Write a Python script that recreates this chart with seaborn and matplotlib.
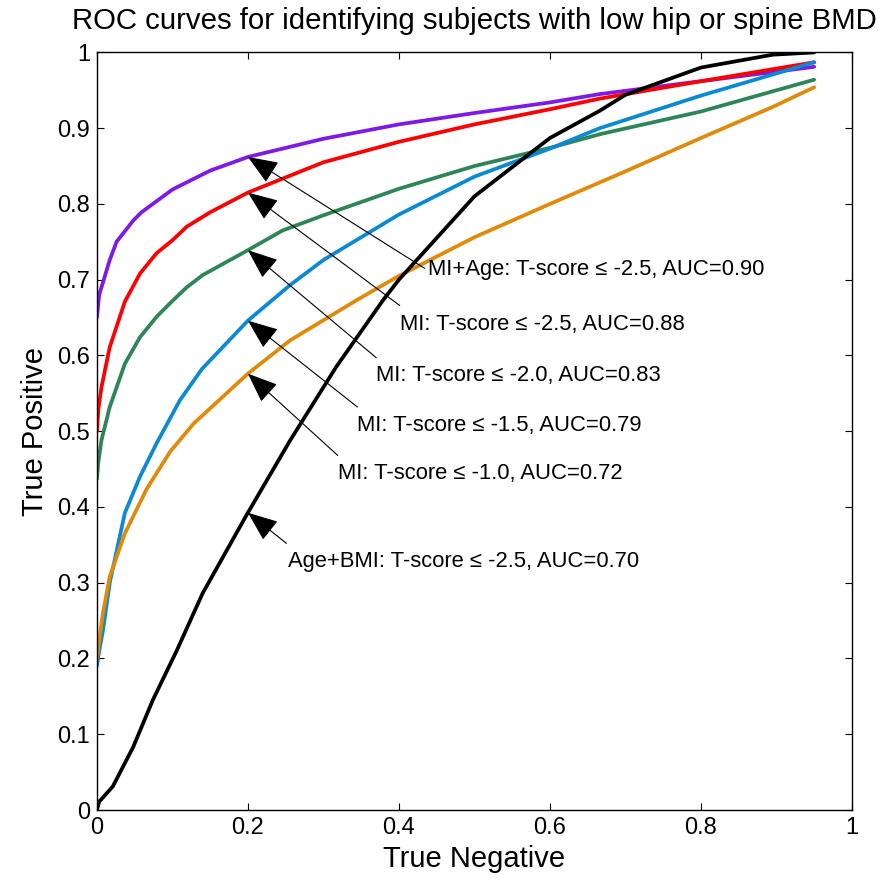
import numpy as np
import pandas as pd
import seaborn as sns
import matplotlib.pyplot as plt


# Curve data (x = true negative, y = true positive)
purple_x = [0, 0.003, 0.017, 0.026, 0.048, 0.059, 0.1, 0.15, 0.2, 0.3, 0.4, 0.5, 0.6, 0.666, 0.8, 0.95]
purple_y = [0.65, 0.68, 0.726, 0.75, 0.778, 0.789, 0.819, 0.844, 0.862, 0.886, 0.905, 0.92, 0.934, 0.945, 0.962, 0.981]

red_x = [0, 0.002, 0.006, 0.017, 0.037, 0.057, 0.079, 0.1, 0.119, 0.15, 0.2, 0.3, 0.4, 0.5, 0.6, 0.666, 0.8, 0.95]
red_y = [0.5, 0.53, 0.558, 0.611, 0.671, 0.708, 0.735, 0.752, 0.77, 0.789, 0.815, 0.855, 0.882, 0.905, 0.925, 0.939, 0.962, 0.987]

green_x = [0, 0.002, 0.006, 0.017, 0.037, 0.057, 0.079, 0.1, 0.119, 0.14, 0.2, 0.246, 0.3, 0.4, 0.5, 0.6, 0.666, 0.8, 0.95]
green_y = [0.437, 0.46, 0.488, 0.532, 0.589, 0.624, 0.651, 0.672, 0.69, 0.706, 0.739, 0.765, 0.785, 0.82, 0.85, 0.874, 0.892, 0.922, 0.964]

blue_x = [0, 0.003, 0.008, 0.017, 0.037, 0.057, 0.079, 0.11, 0.139, 0.2, 0.256, 0.3, 0.4, 0.5, 0.6, 0.666, 0.8, 0.95]
blue_y = [0.19, 0.21, 0.237, 0.3, 0.392, 0.44, 0.484, 0.541, 0.582, 0.646, 0.693, 0.726, 0.786, 0.836, 0.873, 0.9, 0.943, 0.987]

orange_x = [0, 0.003, 0.008, 0.017, 0.037, 0.066, 0.097, 0.128, 0.2, 0.256, 0.344, 0.4, 0.5, 0.6, 0.7, 0.8, 0.895, 0.95]
orange_y = [0.2, 0.225, 0.26, 0.308, 0.365, 0.424, 0.473, 0.51, 0.576, 0.62, 0.673, 0.705, 0.756, 0.8, 0.843, 0.887, 0.928, 0.954]

black_x = [0, 0.003, 0.021, 0.048, 0.074, 0.106, 0.14, 0.198, 0.256, 0.317, 0.379, 0.4, 0.5, 0.6, 0.666, 0.7, 0.8, 0.895, 0.95]
black_y = [0.0, 0.011, 0.031, 0.083, 0.145, 0.211, 0.286, 0.389, 0.488, 0.585, 0.673, 0.7, 0.81, 0.887, 0.923, 0.944, 0.98, 0.997, 1.0]

labels = [
    'MI+Age: T-score \u2264 -2.5, AUC=0.90',
    'MI: T-score \u2264 -2.5, AUC=0.88',
    'MI: T-score \u2264 -2.0, AUC=0.83',
    'MI: T-score \u2264 -1.5, AUC=0.79',
    'MI: T-score \u2264 -1.0, AUC=0.72',
    'Age+BMI: T-score \u2264 -2.5, AUC=0.70',
]
colors = ['#7F1AE6', '#FF0000', '#2E8557', '#0A8AD2', '#E08A0A', '#000000']
curves = [(purple_x, purple_y), (red_x, red_y), (green_x, green_y),
          (blue_x, blue_y), (orange_x, orange_y), (black_x, black_y)]

# Build long dataframe for seaborn
frames = []
for lab, (xs, ys) in zip(labels, curves):
    frames.append(pd.DataFrame({'tn': xs, 'tp': ys, 'curve': lab}))
df = pd.concat(frames, ignore_index=True)

sns.set_style('ticks')
plt.rcParams['font.family'] = ['Liberation Sans', 'DejaVu Sans']
plt.rcParams['text.color'] = 'black'
plt.rcParams['axes.labelcolor'] = 'black'
plt.rcParams['xtick.color'] = 'black'
plt.rcParams['ytick.color'] = 'black'

fig = plt.figure(figsize=(8.81, 8.84), dpi=100)
ax = fig.add_axes([0.110, 0.0837, 0.857, 0.857])

sns.lineplot(data=df, x='tn', y='tp', hue='curve', palette=dict(zip(labels, colors)),
             hue_order=labels, estimator=None, sort=False, linewidth=2.7, legend=False, ax=ax)

# Annotation arrows pointing at each curve at x = 0.2
text_pos = [(0.438, 0.706), (0.402, 0.633), (0.370, 0.566), (0.345, 0.500), (0.319, 0.437), (0.253, 0.321)]
tail_pos = [(0.434, 0.715), (0.401, 0.666), (0.370, 0.597), (0.345, 0.532), (0.319, 0.468), (0.251, 0.352)]
for lab, (xs, ys), (tx, ty), (lx, ly) in zip(labels, curves, text_pos, tail_pos):
    yt = np.interp(0.2, xs, ys)
    ax.annotate('', xy=(0.2, yt), xytext=(lx, ly),
                arrowprops=dict(arrowstyle='-|>,head_length=1.0,head_width=0.4', mutation_scale=19,
                                color='black', lw=0.8, shrinkA=0, shrinkB=0))
    ax.text(tx, ty, lab, fontsize=15.8, ha='left', va='baseline')

ax.set_xlim(0, 1)
ax.set_ylim(0, 1)
ax.set_xticks(np.arange(0, 1.01, 0.2))
ax.set_yticks(np.arange(0, 1.01, 0.1))
ax.set_xticklabels(['0', '0.2', '0.4', '0.6', '0.8', '1'])
ax.set_yticklabels(['0'] + ['%.1f' % v for v in np.arange(0.1, 0.95, 0.1)] + ['1'])
ax.tick_params(direction='in', top=True, right=True, labelsize=17, length=5, width=0.8, pad=5)
for s in ax.spines.values():
    s.set_visible(True)
    s.set_linewidth(1.0)
    s.set_color('black')

ax.set_xlabel('True Negative', fontsize=21, labelpad=4)
ax.set_ylabel('True Positive', fontsize=21, labelpad=6)
ax.set_title('ROC curves for identifying subjects with low hip or spine BMD', fontsize=21.2, pad=17)

fig.savefig('out.png', dpi=100)
